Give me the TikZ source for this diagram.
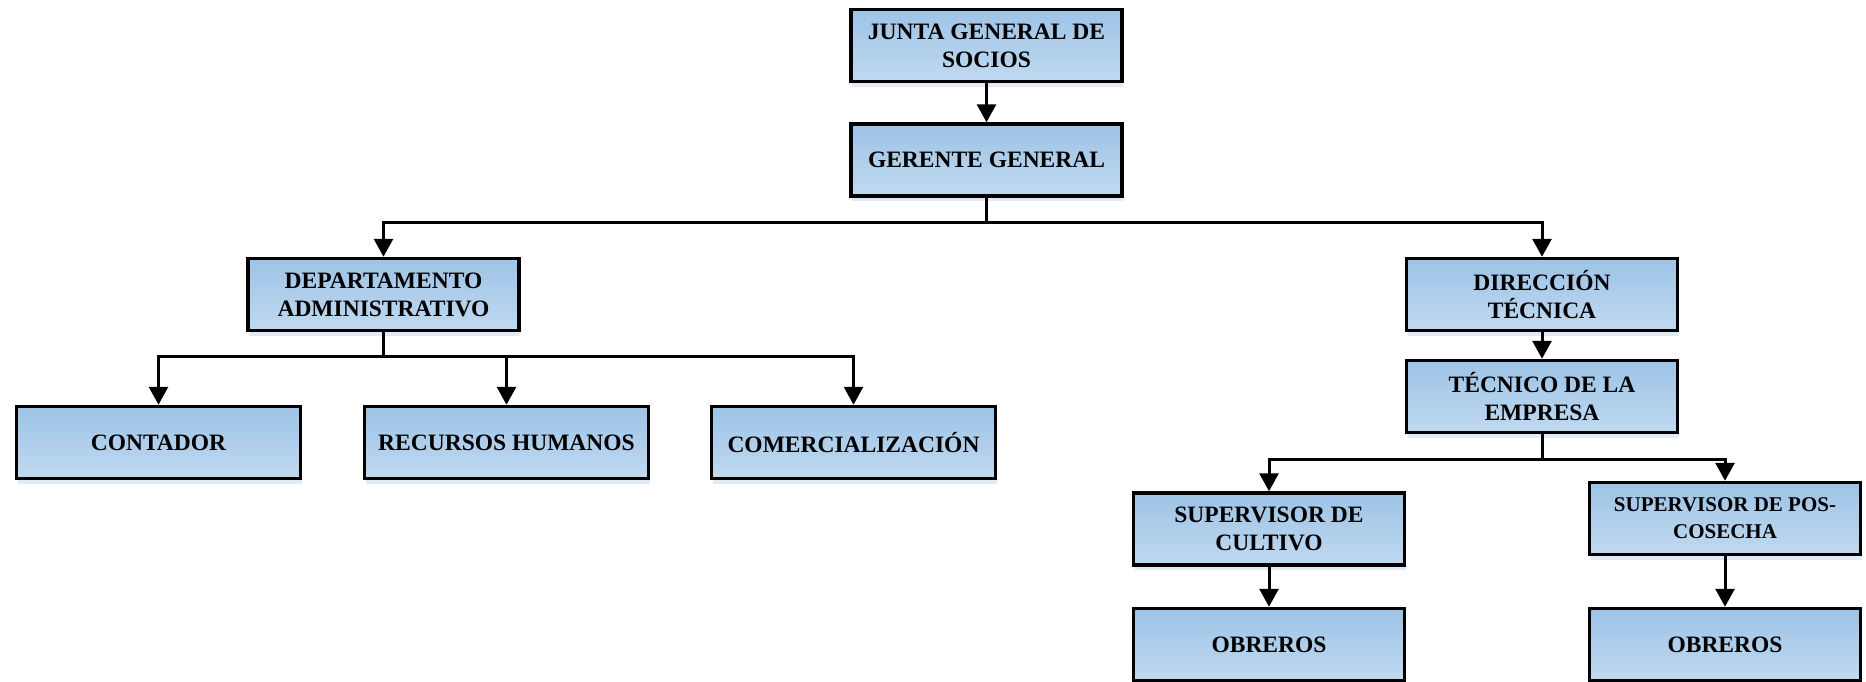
\documentclass[tikz,border=0pt]{standalone}
\usepackage{fontspec}
\setmainfont{Liberation Serif}
\usetikzlibrary{arrows.meta,shadows}
\definecolor{boxtop}{RGB}{157,195,230}
\definecolor{boxbot}{RGB}{192,217,240}
\definecolor{boxglow}{RGB}{226,235,245}
\begin{document}
\begin{tikzpicture}[x=1pt,y=-1pt,
  unit/.style={draw=black, line width=3.5pt, top color=boxtop, bottom color=boxbot,
    minimum height=72pt, inner sep=2pt, align=center,
    font=\fontsize{23.5}{28}\selectfont\bfseries,
    drop shadow={shadow xshift=1pt, shadow yshift=-5pt, opacity=1, fill=boxglow, draw=none}},
  narrowunit/.style={unit, minimum width=271pt},
  wideunit/.style={unit, minimum width=284pt},
  link/.style={line width=3pt, -{Triangle[width=19pt,length=18pt]}},
  trunk/.style={line width=3pt}]
\useasboundingbox (0,0) rectangle (1866,681);

% top of the hierarchy
\node[narrowunit] (junta)   at (986.5,45.5) {JUNTA GENERAL DE\\SOCIOS};
\node[narrowunit] (gerente) at (986.5,160)  {GERENTE GENERAL};

% second level
\node[narrowunit] (depto) at (383.5,294.5) {DEPARTAMENTO\\ADMINISTRATIVO};
\node[narrowunit] (direc) at (1542,294.5)  {DIRECCIÓN\\TÉCNICA};

% administrative branch
\node[wideunit] (contador) at (158.5,442.5) {CONTADOR};
\node[wideunit] (rrhh)     at (506.5,442.5) {RECURSOS HUMANOS};
\node[wideunit] (comer)    at (853.5,442.5) {COMERCIALIZACIÓN};

% technical branch
\node[narrowunit] (tecnico) at (1542,396.5) {TÉCNICO DE LA\\EMPRESA};
\node[narrowunit] (supcult) at (1269,529)   {SUPERVISOR DE\\CULTIVO};
\node[narrowunit, font=\fontsize{21}{27}\selectfont\bfseries] (suppos) at (1725,518.5) {SUPERVISOR DE POS-\\COSECHA};
\node[narrowunit] (obr1) at (1269,644.5) {OBREROS};
\node[narrowunit] (obr2) at (1725,644.5) {OBREROS};

% branching points
\coordinate (b1) at (986.5,222);
\coordinate (b2) at (383.5,356);
\coordinate (b3) at (1542,459);

% connectors
\draw[link] (junta) -- (gerente);
\draw[trunk] (gerente.south) -- (b1);
\draw[link] (b1) -| (depto.north);
\draw[link] (b1) -| (direc.north);

\draw[trunk] (depto.south) -- (b2);
\draw[link] (b2) -| (contador.north);
\draw[link] (b2) -| (rrhh.north);
\draw[link] (b2) -| (comer.north);

\draw[link] (direc) -- (tecnico);
\draw[trunk] (tecnico.south) -- (b3);
\draw[link] (b3) -| (supcult.north);
\draw[link] (b3) -| (suppos.north);

\draw[link] (supcult) -- (obr1);
\draw[link] (suppos) -- (obr2);
\end{tikzpicture}
\end{document}
